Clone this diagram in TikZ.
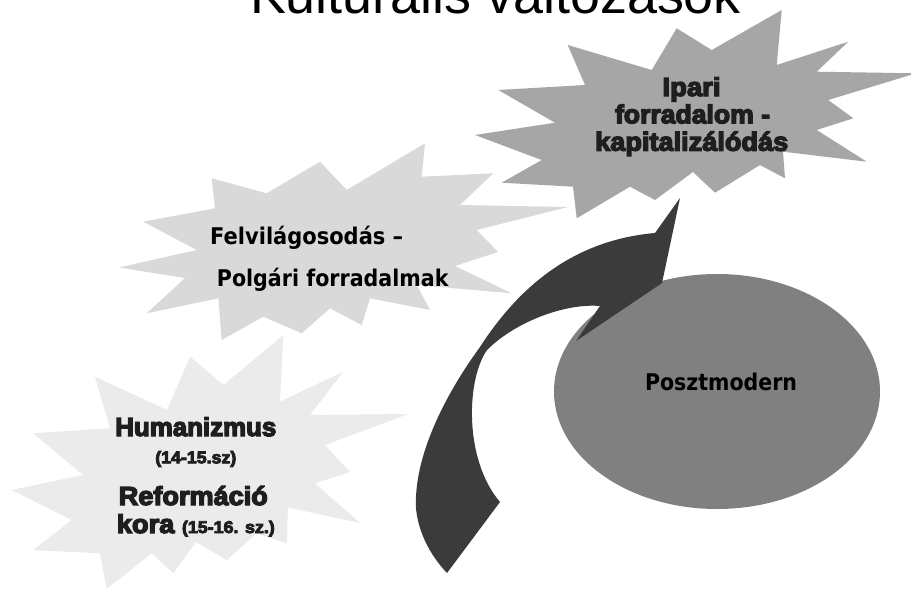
\documentclass[tikz,border=0pt]{standalone}
\usepackage{fontspec}
\usepackage{graphicx}
\setmainfont{Liberation Sans}
\newfontfamily\heavyfont[BoldFeatures={FakeBold=5}, UprightFeatures={FakeBold=5}]{Liberation Sans}
\newfontfamily\tahfont{DejaVu Sans}
\newcommand{\fitw}[2]{\resizebox{#1pt}{\height}{#2}}
\definecolor{starlo}{HTML}{EBEBEB}
\definecolor{starmid}{HTML}{D9D9D9}
\definecolor{starhi}{HTML}{A6A6A6}
\definecolor{ellc}{HTML}{808080}
\definecolor{arrowc}{HTML}{3B3B3B}
\definecolor{txtdark}{HTML}{1E1E1E}
\begin{document}
\begin{tikzpicture}[x=1pt,y=-1pt,
  heavy/.style={font=\heavyfont\bfseries\fontsize{26}{30}\selectfont, text=txtdark, inner sep=0pt, anchor=base},
  heavysmall/.style={font=\heavyfont\bfseries\fontsize{17}{20}\selectfont, text=txtdark, inner sep=0pt, anchor=base},
  tah/.style={font=\tahfont\bfseries\fontsize{23}{27}\selectfont, text=black, inner sep=0pt, anchor=base west}]
\useasboundingbox (0,0) rectangle (911,589);
\clip (0,0) rectangle (911,589);
\fill[white] (0,0) rectangle (911,589);

% title (cut off at the top, as in the reference)
\node[font=\fontsize{54}{60}\selectfont, anchor=base, inner sep=0pt] (title) at (495.5,13) {\fitw{491}{Kulturális változások}};

% bottom star
\fill[starlo] (11.7,490) -- (83.3,475) -- (33.3,433.3) -- (110,428.3) -- (95,376.7) -- (167,410)
  -- (190,356.7) -- (223.3,385) -- (283.3,335) -- (280,401.7) -- (343.3,371.7) -- (310,415)
  -- (408.3,414) -- (325,445) -- (350,472) -- (315,483.3) -- (360,523) -- (288,507.5)
  -- (286.7,543.3) -- (256.7,533.3) -- (226.7,560) -- (196,542) -- (173.3,573.3) -- (151.7,553.3)
  -- (106.7,589) -- (100,553.3) -- (33.3,550) -- (71.7,520) -- cycle;

% middle star
\fill[starmid] (119,267.5) -- (196.7,250) -- (143.3,221.7) -- (215,208.3) -- (211.7,178.3)
  -- (266.7,193.3) -- (320,161.7) -- (346.7,190) -- (425,143.3) -- (421.7,176.7) -- (493.3,173.3)
  -- (460,205) -- (568,207) -- (476.7,230) -- (498,252) -- (455,266) -- (511.7,293.3)
  -- (416.7,285) -- (430,310) -- (370,298.3) -- (361.7,325) -- (330,308.3) -- (301.7,333.3)
  -- (263.3,316.7) -- (221.7,340) -- (218.3,298.3) -- (146.7,313.3) -- (185,278) -- cycle;

% top star
\fill[starhi] (475,135) -- (555,122.7) -- (498.3,90) -- (585,85) -- (567.7,45) -- (651.7,70)
  -- (676.7,28.3) -- (711.7,50) -- (781.7,10) -- (776.7,65) -- (848.3,41.7) -- (816.7,71.7)
  -- (916,73.3) -- (828.3,100) -- (853.3,118.3) -- (816.7,130) -- (866.7,161.7) -- (783,151.7)
  -- (785,178.3) -- (760,165) -- (715,192.7) -- (693,172) -- (655,200) -- (630,186.7)
  -- (576.7,218.3) -- (573,186.7) -- (501.7,182.7) -- (541.7,160) -- cycle;

% ellipse
\fill[ellc] (717,391.5) ellipse [x radius=163, y radius=117.5];

% curved arrow
\fill[arrowc] (680,198) -- (662,283) -- (576,341) -- (600,306)
  .. controls (565,303) and (515,322) .. (487,350)
  .. controls (466,380) and (464,460) .. (500,502)
  -- (447,573)
  .. controls (425,550) and (414,520) .. (416,497)
  .. controls (418,450) and (445,395) .. (480,347)
  .. controls (520,285) and (575,240) .. (655,233)
  -- cycle;

% texts
\node[heavy] (ipa1) at (691.5,96) {\fitw{58}{Ipari}};
\node[heavy] (ipa2) at (692.5,123.3) {\fitw{155}{forradalom -}};
\node[heavy] (ipa3) at (691.7,150.7) {\fitw{193}{kapitalizálódás}};

\node[tah] (fel1) at (210,244) {\fitw{193}{Felvilágosodás –}};
\node[tah] (fel2) at (216.7,286.7) {\fitw{231.6}{Polgári forradalmak}};

\node[tah, anchor=base] (poszt) at (721,390) {\fitw{152}{Posztmodern}};

\node[heavy] (hum1) at (195.8,436) {\fitw{161}{Humanizmus}};
\node[heavysmall] (hum2) at (195.8,463.3) {\fitw{81}{(14-15.sz)}};
\node[heavy] (ref1) at (193.3,505) {\fitw{149}{Reformáció}};
\node[heavy] (ref2) at (195.8,533) {\fitw{158}{kora {\fontsize{17}{20}\selectfont (15-16. sz.)}}};
\end{tikzpicture}
\end{document}
